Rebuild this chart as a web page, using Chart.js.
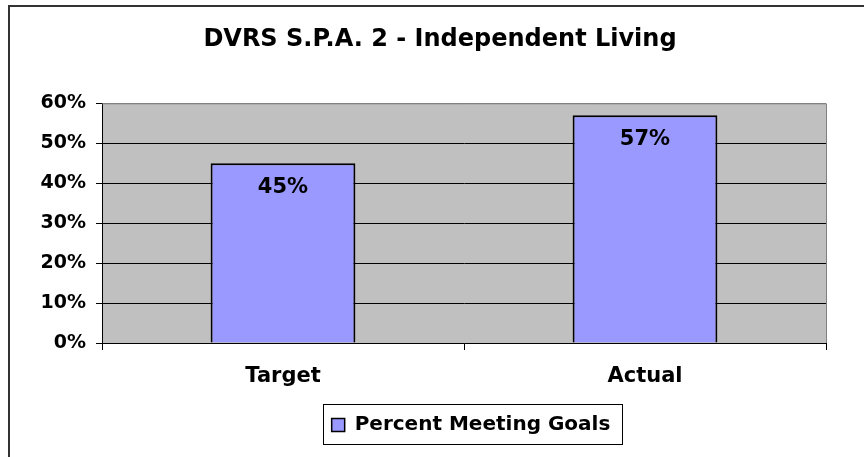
<!DOCTYPE html>
<html>
<head>
<meta charset="utf-8">
<script src="https://cdn.jsdelivr.net/npm/chart.js@4"></script>
<style>
  html, body { margin: 0; padding: 0; background: #fff; }
  #wrap { width: 864px; height: 457px; }
</style>
</head>
<body>
<div id="wrap"><canvas id="c" width="864" height="457"></canvas></div>
<script>
const chartTitle = 'DVRS S.P.A. 2 - Independent Living';
const categories = ['Target', 'Actual'];
const seriesName = 'Percent Meeting Goals';
const seriesValues = [0.45, 0.57];
const dataLabels = ['45%', '57%'];
const yTickValues = [0, 0.1, 0.2, 0.3, 0.4, 0.5, 0.6];

const FONT = '"DejaVu Sans", Verdana, sans-serif';

const framePlugin = {
  id: 'frame',
  beforeDraw(chart) {
    const ctx = chart.ctx;
    const a = chart.chartArea;
    ctx.save();
    ctx.fillStyle = '#ffffff';
    ctx.fillRect(0, 0, chart.width, chart.height);
    ctx.strokeStyle = '#333333';
    ctx.lineWidth = 2;
    ctx.beginPath();
    ctx.moveTo(9, chart.height);
    ctx.lineTo(9, 6);
    ctx.lineTo(chart.width, 6);
    ctx.stroke();
    ctx.fillStyle = '#C0C0C0';
    ctx.fillRect(a.left, a.top, a.right - a.left, a.bottom - a.top);
    ctx.restore();
  },
  afterDraw(chart) {
    const ctx = chart.ctx;
    const a = chart.chartArea;
    ctx.save();
    ctx.strokeStyle = '#808080';
    ctx.lineWidth = 1;
    ctx.beginPath();
    ctx.moveTo(a.left, a.top + 0.5);
    ctx.lineTo(a.right + 0.5, a.top + 0.5);
    ctx.lineTo(a.right + 0.5, a.bottom);
    ctx.stroke();
    const lg = chart.legend;
    if (lg && lg.legendHitBoxes && lg.legendHitBoxes.length) {
      const hb = lg.legendHitBoxes[0];
      ctx.strokeStyle = '#000000';
      ctx.lineWidth = 1;
      ctx.strokeRect(Math.round(hb.left - 9) + 0.5, Math.round(lg.top - 1) + 0.5,
                     Math.round(hb.width + 20), 40);
    }
    ctx.restore();
  },
  afterLayout(chart) {
    const lg = chart.legend;
    if (lg) { lg.left += 58; lg.right += 58; }
    const tb = chart.titleBlock;
    if (tb) { tb.left += 27; tb.right += 27; }
  }
};

const labelPlugin = {
  id: 'barLabels',
  afterDatasetsDraw(chart) {
    const ctx = chart.ctx;
    const meta = chart.getDatasetMeta(0);
    ctx.save();
    ctx.font = 'bold 21px ' + FONT;
    ctx.fillStyle = '#000';
    ctx.textAlign = 'center';
    ctx.textBaseline = 'alphabetic';
    meta.data.forEach((el, i) => {
      ctx.fillText(dataLabels[i], el.x, el.y + 30);
    });
    ctx.restore();
  }
};

new Chart(document.getElementById('c'), {
  type: 'bar',
  data: {
    labels: categories,
    datasets: [{
      label: seriesName,
      data: seriesValues,
      backgroundColor: '#9999FF',
      borderColor: '#000000',
      borderWidth: 2,
      barPercentage: 0.4,
      categoryPercentage: 1.0
    }]
  },
  options: {
    responsive: false,
    animation: false,
    devicePixelRatio: 1,
    layout: { padding: { top: 0, left: 0, right: 38, bottom: 12 } },
    plugins: {
      title: {
        display: true,
        text: chartTitle,
        color: '#000',
        font: { family: FONT, size: 24, weight: 'bold', lineHeight: 1.2 },
        padding: { top: 25, bottom: 49.5 }
      },
      legend: {
        display: true,
        position: 'bottom',
        labels: {
          color: '#000',
          font: { family: FONT, size: 20, weight: 'bold' },
          boxWidth: 13,
          boxHeight: 13,
          padding: 10,
          generateLabels(chart) {
            return [{
              text: seriesName,
              fillStyle: '#9999FF',
              strokeStyle: '#000',
              lineWidth: 1.5,
              datasetIndex: 0
            }];
          }
        }
      },
      tooltip: { enabled: false }
    },
    scales: {
      x: {
        offset: true,
        grid: {
          display: true,
          offset: true,
          drawOnChartArea: false,
          drawTicks: true,
          tickLength: 7,
          tickColor: '#000',
          color: '#000'
        },
        border: { display: true, color: '#000', width: 1 },
        ticks: {
          color: '#000',
          font: { family: FONT, size: 21, weight: 'bold' },
          padding: 14
        },
        afterFit(scale) { scale.height = 62; }
      },
      y: {
        min: 0,
        max: 0.6,
        afterBuildTicks(scale) { scale.ticks = yTickValues.map(v => ({ value: v })); },
        grid: {
          color: ctx => (ctx.tick && ctx.tick.value >= 0.6 ? '#808080' : '#000000'),
          tickColor: '#000',
          tickLength: 6,
          lineWidth: 1
        },
        border: { display: true, color: '#000', width: 1 },
        ticks: {
          color: '#000',
          font: { family: FONT, size: 19, weight: 'bold' },
          padding: 10,
          callback: v => Math.round(v * 100) + '%'
        },
        afterFit(scale) { scale.width = 102; }
      }
    }
  },
  plugins: [framePlugin, labelPlugin]
});
</script>
</body>
</html>
